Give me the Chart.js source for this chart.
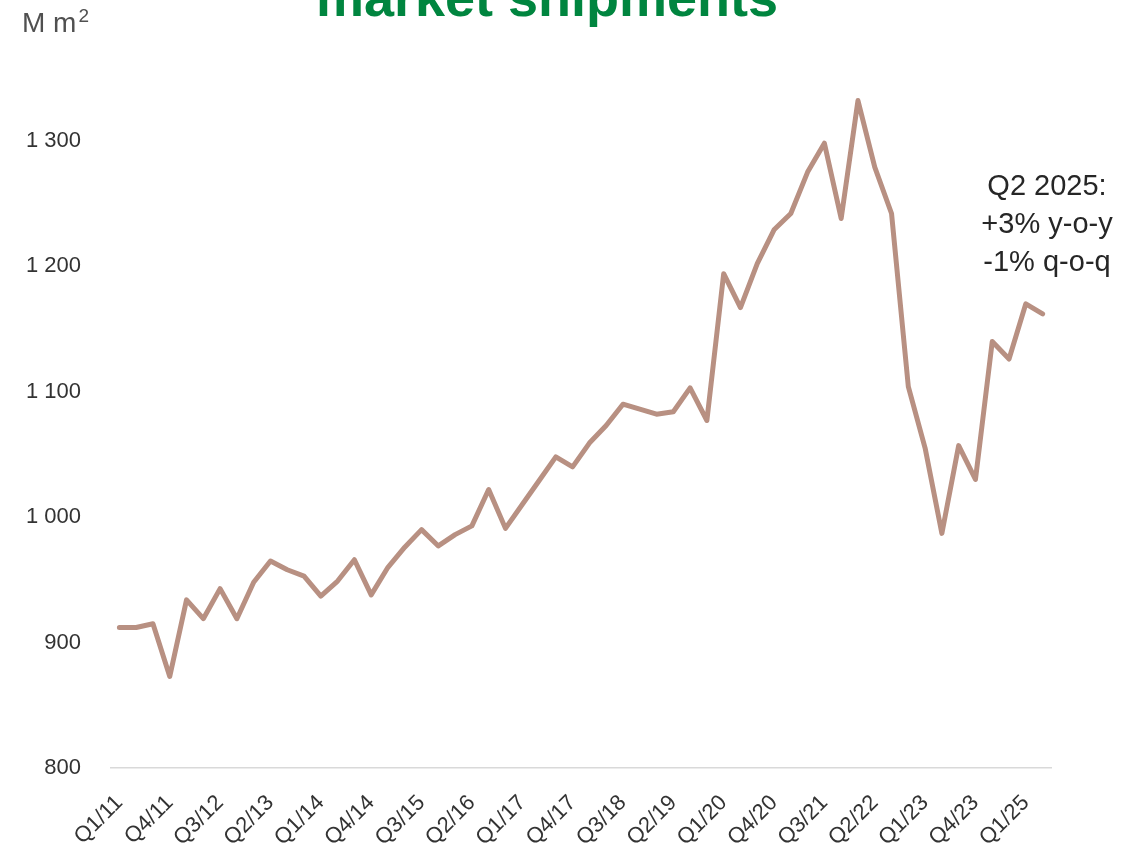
<!DOCTYPE html>
<html>
<head>
<meta charset="utf-8">
<title>Market shipments</title>
<script src="https://cdn.jsdelivr.net/npm/chart.js@4.4.1/dist/chart.umd.min.js"></script>
<style>
  html, body { margin: 0; padding: 0; background: #ffffff; }
  #wrap { width: 1145px; height: 852px; position: relative; }
</style>
</head>
<body>
<div id="wrap"><canvas id="chart"></canvas></div>
<script>
// Quarterly market shipments, million m²
const quarters = [
  'Q1/11','Q2/11','Q3/11','Q4/11',
  'Q1/12','Q2/12','Q3/12','Q4/12',
  'Q1/13','Q2/13','Q3/13','Q4/13',
  'Q1/14','Q2/14','Q3/14','Q4/14',
  'Q1/15','Q2/15','Q3/15','Q4/15',
  'Q1/16','Q2/16','Q3/16','Q4/16',
  'Q1/17','Q2/17','Q3/17','Q4/17',
  'Q1/18','Q2/18','Q3/18','Q4/18',
  'Q1/19','Q2/19','Q3/19','Q4/19',
  'Q1/20','Q2/20','Q3/20','Q4/20',
  'Q1/21','Q2/21','Q3/21','Q4/21',
  'Q1/22','Q2/22','Q3/22','Q4/22',
  'Q1/23','Q2/23','Q3/23','Q4/23',
  'Q1/24','Q2/24',
  'Q1/25','Q2/25'
];

const shipments = [
  912, 912, 915, 873,
  934, 919, 943, 919,
  948, 965, 958, 953,
  937, 949, 966, 938,
  960, 976, 990, 977,
  986, 993, 1022, 991,
  1010, 1029, 1048, 1040,
  1059, 1073, 1090, 1086,
  1082, 1084, 1103, 1077,
  1194, 1167, 1202, 1229,
  1242, 1275, 1298, 1238,
  1332, 1279, 1242, 1104,
  1055, 987, 1057, 1030,
  1140, 1126,
  1170, 1162
];

const yTicks = [800, 900, 1000, 1100, 1200, 1300];

const titleText = 'market shipments';
const unitText = 'M m';
const unitSup = '2';

// Growth figures for the latest quarter, taken from the series itself
const lastIdx = shipments.length - 1;
const yearAgoIdx = quarters.indexOf('Q2/24');
const fmtPct = v => (v >= 0 ? '+' : '') + Math.round(v) + '%';
const yoy = fmtPct((shipments[lastIdx] / shipments[yearAgoIdx] - 1) * 100);
const qoq = fmtPct((shipments[lastIdx] / shipments[lastIdx - 1] - 1) * 100);
const noteLines = ['Q2 2025:', yoy + ' y-o-y', qoq + ' q-o-q'];

const FONT = "'Liberation Sans', Arial, sans-serif";

const textPlugin = {
  id: 'chartText',
  afterDraw(chart) {
    const ctx = chart.ctx;
    ctx.save();
    // title (runs off the top edge)
    ctx.fillStyle = '#00853F';
    ctx.font = 'bold 54px ' + FONT;
    ctx.textAlign = 'center';
    ctx.textBaseline = 'alphabetic';
    ctx.fillText(titleText, 547, 16);

    // unit label
    ctx.fillStyle = '#505050';
    ctx.font = '28px ' + FONT;
    ctx.textAlign = 'left';
    ctx.fillText(unitText, 22, 32);
    const w = ctx.measureText(unitText).width;
    ctx.font = '19px ' + FONT;
    ctx.fillText(unitSup, 22 + w + 2, 22);

    // latest-quarter note
    ctx.fillStyle = '#262626';
    ctx.font = '29px ' + FONT;
    ctx.textAlign = 'center';
    const nx = 1047;
    [195, 233, 271].forEach((y, i) => ctx.fillText(noteLines[i], nx, y));
    ctx.restore();
  }
};

new Chart(document.getElementById('chart'), {
  type: 'line',
  data: {
    labels: quarters,
    datasets: [{
      data: shipments,
      borderColor: '#B89082',
      borderWidth: 5,
      borderCapStyle: 'round',
      borderJoinStyle: 'round',
      pointRadius: 0,
      pointHoverRadius: 0,
      tension: 0,
      fill: false
    }]
  },
  options: {
    responsive: true,
    maintainAspectRatio: false,
    animation: false,
    layout: { padding: { top: 78, right: 94, left: 0, bottom: 0 } },
    plugins: {
      legend: { display: false },
      tooltip: { enabled: false },
      title: { display: false }
    },
    scales: {
      x: {
        type: 'category',
        offset: true,
        grid: { display: false, drawTicks: false },
        border: { display: true, color: '#D9D9D9', width: 1.5 },
        ticks: {
          autoSkip: false,
          maxRotation: 45,
          minRotation: 45,
          padding: 22,
          color: '#333333',
          font: { family: FONT, size: 22 },
          callback: (v, i) => (i % 3 === 0 ? quarters[i] : '')
        },
        afterFit(scale) { scale.height = 84; }
      },
      y: {
        min: 800,
        max: 1350,
        grid: { display: false, drawTicks: false },
        border: { display: false },
        ticks: {
          stepSize: 100,
          padding: 30,
          color: '#333333',
          font: { family: FONT, size: 22 },
          callback: v => String(v).replace(/\B(?=(\d{3})+(?!\d))/g, ' ')
        },
        afterBuildTicks(scale) {
          scale.ticks = yTicks.map(v => ({ value: v }));
        },
        afterFit(scale) { scale.width = 111; }
      }
    }
  },
  plugins: [textPlugin]
});
</script>
</body>
</html>
